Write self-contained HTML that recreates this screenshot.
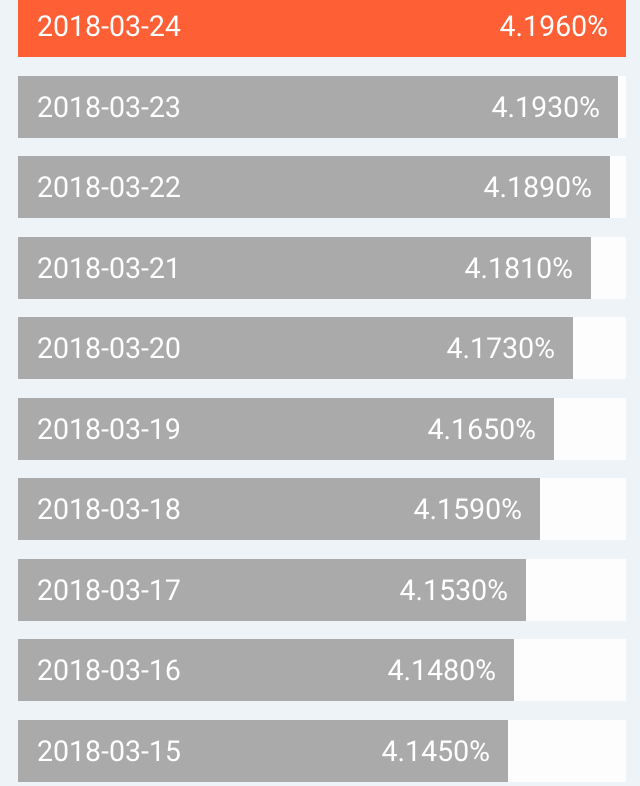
<!DOCTYPE html>
<html><head><style>
body{margin:0;width:640px;height:786px;background:#eef3f7;position:relative;overflow:hidden;font-family:"Roboto","Liberation Sans",sans-serif;}
.t{position:absolute;left:18px;width:608px;height:62px;background:#fdfdfe;}
.b{position:absolute;left:0;top:0;height:62px;background:#aaaaaa;}
.d{position:absolute;left:19px;top:1px;line-height:62px;color:#fff;font-size:28.5px;}
.v{position:absolute;top:1px;right:18px;line-height:62px;color:#fff;font-size:28.5px;}
</style></head><body>
<div class="t" style="top:-5px"><div class="b" style="width:608px;background:#fe5f35"><span class="d">2018-03-24</span><span class="v">4.1960%</span></div></div>
<div class="t" style="top:76px"><div class="b" style="width:600px"><span class="d">2018-03-23</span><span class="v">4.1930%</span></div></div>
<div class="t" style="top:156px"><div class="b" style="width:592px"><span class="d">2018-03-22</span><span class="v">4.1890%</span></div></div>
<div class="t" style="top:237px"><div class="b" style="width:573px"><span class="d">2018-03-21</span><span class="v">4.1810%</span></div></div>
<div class="t" style="top:317px"><div class="b" style="width:555px"><span class="d">2018-03-20</span><span class="v">4.1730%</span></div></div>
<div class="t" style="top:398px"><div class="b" style="width:536px"><span class="d">2018-03-19</span><span class="v">4.1650%</span></div></div>
<div class="t" style="top:478px"><div class="b" style="width:522px"><span class="d">2018-03-18</span><span class="v">4.1590%</span></div></div>
<div class="t" style="top:559px"><div class="b" style="width:508px"><span class="d">2018-03-17</span><span class="v">4.1530%</span></div></div>
<div class="t" style="top:639px"><div class="b" style="width:496px"><span class="d">2018-03-16</span><span class="v">4.1480%</span></div></div>
<div class="t" style="top:720px"><div class="b" style="width:490px"><span class="d">2018-03-15</span><span class="v">4.1450%</span></div></div>
</body></html>
